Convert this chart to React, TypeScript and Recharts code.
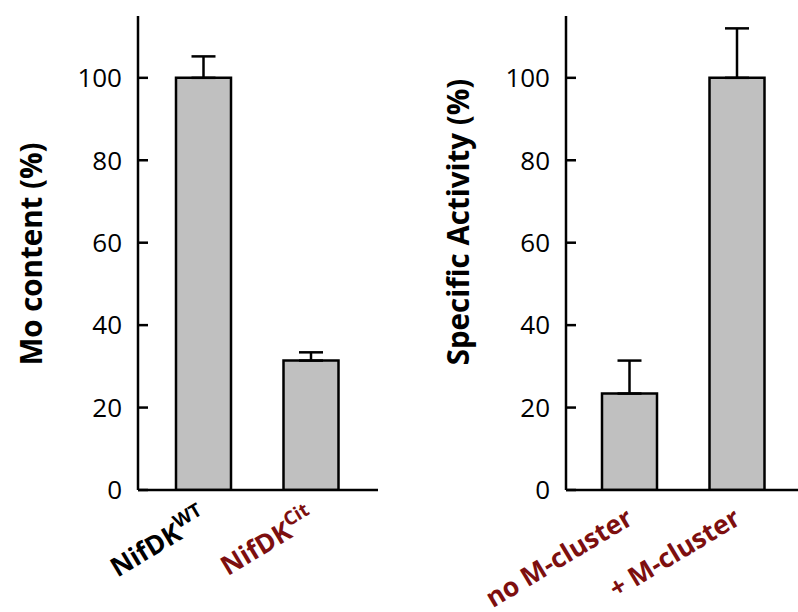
import { Bar, BarChart, ErrorBar, XAxis, YAxis } from "recharts";

const leftNames = ["NifDK", "NifDK"];
const leftSups = ["WT", "Cit"];
const leftColors = ["#000000", "#7d0f0f"];
const leftValues = [100, 31.4];
const leftErrors = [5.2, 2];

const rightNames = ["no M-cluster", "+ M-cluster"];
const rightColors = ["#7d0f0f", "#7d0f0f"];
const rightValues = [23.4, 100];
const rightErrors = [8, 12];

const yTicks = [0, 20, 40, 60, 80, 100];
const yMax = 115;

const FONT = "'Open Sans', sans-serif";

const leftData = leftNames.map((n, i) => ({
  name: n,
  sup: leftSups[i],
  color: leftColors[i],
  value: leftValues[i],
  err: [0, leftErrors[i]],
}));

const rightData = rightNames.map((n, i) => ({
  name: n,
  sup: "",
  color: rightColors[i],
  value: rightValues[i],
  err: [0, rightErrors[i]],
}));

function YTick(props: any) {
  const { x, y, payload } = props;
  return (
    <g>
      <line x1={x} x2={x + 10} y1={y} y2={y} stroke="#000" strokeWidth={2.5} />
      <text x={x - 16} y={y} dy="0.36em" textAnchor="end" fontSize={26} fontFamily={FONT} fill="#000">
        {payload.value}
      </text>
    </g>
  );
}

function makeXTick(data: any[]) {
  return function XTick(props: any) {
    const { x, y, index } = props;
    const d = data[index];
    const ax = x + 5;
    const ay = y + 33;
    return (
      <text
        x={ax}
        y={ay}
        transform={`rotate(-31, ${ax}, ${ay})`}
        textAnchor="end"
        fontSize={26.5}
        fontWeight="bold"
        fontFamily={FONT}
        fill={d.color}
      >
        <tspan>{d.name}</tspan>
        {d.sup ? (
          <tspan dy={-11} fontSize={19}>
            {d.sup}
          </tspan>
        ) : null}
      </text>
    );
  };
}

function YLabel({ viewBox, text, cx, shift }: any) {
  const x = viewBox.x + cx;
  const y = viewBox.y + viewBox.height / 2 + shift;
  return (
    <text
      x={x}
      y={y}
      transform={`rotate(-90, ${x}, ${y})`}
      textAnchor="middle"
      dominantBaseline="central"
      fontSize={29.5}
      fontWeight="bold"
      fontFamily={FONT}
      fill="#000"
    >
      {text}
    </text>
  );
}

function Panel({ data, width, yWidth, right, pad, label, labelX, labelShift }: any) {
  return (
    <BarChart width={width} height={612} data={data} margin={{ top: 16, right, bottom: 0, left: 0 }}>
      <XAxis
        dataKey="name"
        height={122}
        padding={pad}
        axisLine={{ stroke: "#000", strokeWidth: 2.5 }}
        tickLine={false}
        tickSize={0}
        tickMargin={0}
        interval={0}
        tick={makeXTick(data)}
      />
      <YAxis
        width={yWidth}
        domain={[0, yMax]}
        ticks={yTicks}
        allowDataOverflow
        axisLine={{ stroke: "#000", strokeWidth: 2.5 }}
        tickLine={false}
        tickSize={0}
        tickMargin={0}
        tick={<YTick />}
        label={<YLabel text={label} cx={labelX} shift={labelShift} />}
      />
      <Bar dataKey="value" barSize={55} fill="#c0c0c0" stroke="#000" strokeWidth={2.5} isAnimationActive={false}>
        <ErrorBar dataKey="err" width={12} stroke="#000" strokeWidth={2.5} direction="y" />
      </Bar>
    </BarChart>
  );
}

export default function App() {
  return (
    <div style={{ position: "absolute", left: 0, top: 0, width: 798, height: 612, background: "#fff" }}>
      <div style={{ position: "absolute", left: 0, top: 0 }}>
        <Panel
          data={leftData}
          width={400}
          yWidth={138}
          right={22}
          pad={{ left: 12, right: 13 }}
          label="Mo content (%)"
          labelX={30}
          labelShift={1}
        />
      </div>
      <div style={{ position: "absolute", left: 400, top: 0 }}>
        <Panel
          data={rightData}
          width={398}
          yWidth={166}
          right={0}
          pad={{ left: 10, right: 7 }}
          label="Specific Activity (%)"
          labelX={57}
          labelShift={-31}
        />
      </div>
    </div>
  );
}
